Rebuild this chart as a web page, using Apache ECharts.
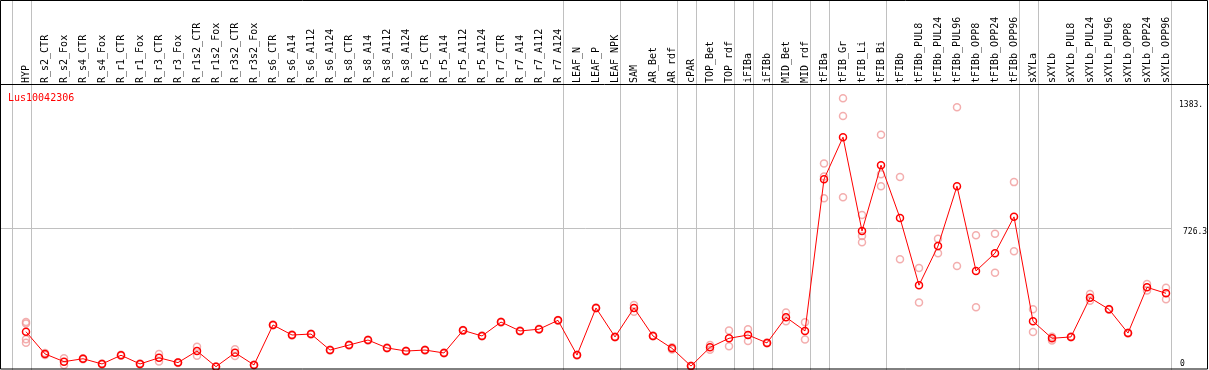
<!DOCTYPE html>
<html><head><meta charset="utf-8">
<script src="https://cdn.jsdelivr.net/npm/echarts@6/dist/echarts.min.js"></script>
<style>html,body{margin:0;padding:0;background:#fff}#c{width:1209px;height:370px}</style>
</head><body><div id="c"></div>
<script>
const categories = ['HYP','R_s2_CTR','R_s2_Fox','R_s4_CTR','R_s4_Fox','R_r1_CTR','R_r1_Fox','R_r3_CTR','R_r3_Fox','R_r1s2_CTR','R_r1s2_Fox','R_r3s2_CTR','R_r3s2_Fox','R_s6_CTR','R_s6_A14','R_s6_A112','R_s6_A124','R_s8_CTR','R_s8_A14','R_s8_A112','R_s8_A124','R_r5_CTR','R_r5_A14','R_r5_A112','R_r5_A124','R_r7_CTR','R_r7_A14','R_r7_A112','R_r7_A124','LEAF_N','LEAF_P','LEAF_NPK','SAM','AR_Bet','AR_rdf','cPAR','TOP_Bet','TOP_rdf','iFIBa','iFIBb','MID_Bet','MID_rdf','tFIBa','tFIB_Gr','tFIB_Li','tFIB_Bi','tFIBb','tFIBb_PUL8','tFIBb_PUL24','tFIBb_PUL96','tFIBb_OPP8','tFIBb_OPP24','tFIBb_OPP96','sXYLa','sXYLb','sXYLb_PUL8','sXYLb_PUL24','sXYLb_PUL96','sXYLb_OPP8','sXYLb_OPP24','sXYLb_OPP96'];
const meanValues = [190,75,35,50,23,68,23,55,30,90,9,81,18,225,173,178,95,121,147,106,90,95,80,197,168,240,194,203,249,69,313,163,313,168,104,12,109,156,173,132,265,194,980,1198,712,1053,779,431,634,944,505,597,785,244,156,163,366,306,183,420,389];
const replicateValues = [
  [240,232,151,133],[80,70],[52,18],[53,47],[25,21],[71,65],[25,21],[75,36],[32,28],[112,66],[10,8],[99,64],[19,17],
  [227,223],[175,171],[180,176],[97,93],[123,119],[149,145],[108,104],[92,88],[97,93],[82,78],[199,195],[170,166],
  [242,238],[196,192],[205,201],[251,247],[71,67],[315,311],[165,161],[329,294],[170,166],[110,98],[14,10],
  [121,97],[196,115],[203,142],[134,130],[289,244],[239,150],
  [1061,994,882],[1400,1307,887],[795,686,654],[1210,1006,944],[991,566],[520,342],[671,597],[1353,531],
  [690,317],[698,496],[965,607],[306,189],[164,144],[165,161],[385,350],[308,304],[185,181],[437,403],[418,358]
];
const separatorAfter = [-1,0,28,31,34,35,37,38,39,41,42,45,52,53,60];
const gridLineValue = 726.3;
const yMax = 1452.6;
const yTickValues = [0, 726.3, 1383.4];
const yTickLabels = ['0', '726.3', '1383.'];
const titleText = 'Lus10042306';

const FONT = 'DejaVu Sans Mono';
const SEP_OFFSET = 4.5 / 19;
const chart = echarts.init(document.getElementById('c'), null, {renderer: 'canvas'});

const repData = [];
replicateValues.forEach((arr, i) => arr.forEach(v => repData.push([i, v])));

function sepX(api, idx) {
  const bw = api.size([1, 0])[0];
  const x0 = api.coord([0, 0])[0];
  return Math.round(x0 + idx * bw + bw * SEP_OFFSET) + 0.5;
}
function labelFmt(v) {
  const i = yTickValues.indexOf(v);
  return i >= 0 ? yTickLabels[i] : '';
}
const yBase = {
  type: 'value', min: 0, max: yMax, position: 'right',
  axisLine: {show: false}, axisTick: {show: false}, splitLine: {show: false}
};
const labelBase = {fontFamily: FONT, fontSize: 8, color: '#000', margin: 3.5, formatter: labelFmt, showMinLabel: true, showMaxLabel: true};

chart.setOption({
  animation: false,
  backgroundColor: '#fff',
  title: {text: titleText, left: 8, top: 93, padding: 0,
    textStyle: {color: '#ff0000', fontFamily: FONT, fontSize: 10, fontWeight: 'normal'}},
  grid: {left: 16.5, right: 33.5, top: 88, bottom: 1.6, outerBoundsMode: 'none', containLabel: false},
  xAxis: {
    type: 'category', position: 'top', data: categories, boundaryGap: true,
    axisLine: {show: false}, axisTick: {show: false}, splitLine: {show: false},
    axisLabel: {interval: 0, rotate: 90, margin: 5, fontFamily: FONT, fontSize: 10, color: '#000'}
  },
  yAxis: [
    Object.assign({}, yBase, {axisLabel: Object.assign({}, labelBase, {customValues: [yTickValues[2]], verticalAlign: 'top'})}),
    Object.assign({}, yBase, {offset: 4, axisLabel: Object.assign({}, labelBase, {customValues: [yTickValues[1]], verticalAlign: 'top'})}),
    Object.assign({}, yBase, {offset: 1, axisLabel: Object.assign({}, labelBase, {customValues: [yTickValues[0]], verticalAlign: 'bottom'})})
  ],
  series: [
    {
      type: 'custom', silent: true, clip: false, z: 1,
      data: separatorAfter.map(() => [0, 0]),
      renderItem: (params, api) => {
        const x = sepX(api, separatorAfter[params.dataIndex]);
        return {type: 'line', shape: {x1: x, y1: 0, x2: x, y2: api.getHeight()},
          style: {stroke: '#c0c0c0', lineWidth: 1}};
      }
    },
    {
      type: 'custom', silent: true, clip: false, z: 1,
      data: [[0, gridLineValue]],
      renderItem: (params, api) => {
        const y = Math.round(api.coord([0, api.value(1)])[1]) + 0.5;
        const x2 = sepX(api, separatorAfter[separatorAfter.length - 1]);
        return {type: 'line', shape: {x1: 0, y1: y, x2: x2, y2: y},
          style: {stroke: '#c0c0c0', lineWidth: 1}};
      }
    },
    {
      type: 'scatter', data: repData, symbol: 'circle', symbolSize: 7, z: 2,
      itemStyle: {color: 'rgba(0,0,0,0)', borderColor: '#f09a9a', borderWidth: 1.5}
    },
    {
      type: 'line', data: meanValues, symbol: 'circle', symbolSize: 7, showAllSymbol: true, z: 3,
      lineStyle: {color: '#ff0000', width: 1},
      itemStyle: {color: 'rgba(0,0,0,0)', borderColor: '#ff0000', borderWidth: 1.5}
    }
  ],
  graphic: [
    {type: 'rect', silent: true, z: 100, shape: {x: 0.5, y: 0.5, width: 1207, height: 368.5},
      style: {fill: 'none', stroke: '#000', lineWidth: 1}},
    {type: 'line', silent: true, z: 100, shape: {x1: 0, y1: 84.5, x2: 1209, y2: 84.5},
      style: {stroke: '#000', lineWidth: 1}}
  ]
});
</script>
</body></html>
